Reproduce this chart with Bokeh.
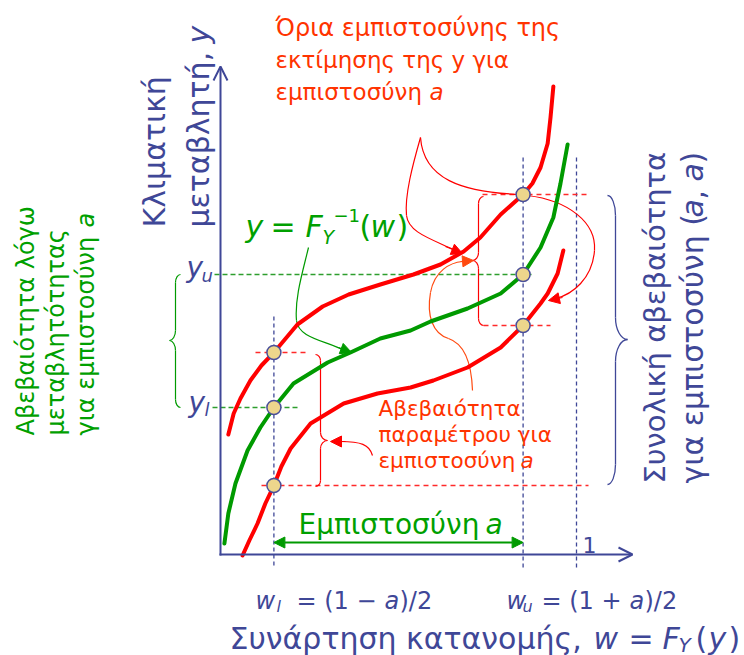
from math import pi
from bokeh.plotting import figure
from bokeh.models import Range1d, Arrow, NormalHead, OpenHead
from bokeh.core.properties import value
from bokeh.embed import file_html
from bokeh.resources import INLINE

# ---------------- data (w = distribution function value, y = climate variable) ----------------
a_conf = 0.7
w_l, w_u = 0.15, 0.85          # (1 - a)/2 , (1 + a)/2
w_one = 1.0
y_l, y_u = 1.47, 2.80

# central curve y = F_Y^-1(w)
mid_w = [0.011, 0.022, 0.042, 0.076, 0.112, 0.150, 0.205, 0.301, 0.365, 0.449, 0.534, 0.590,
         0.694, 0.787, 0.850, 0.899, 0.935, 0.955, 0.975]
mid_y = [0.11, 0.41, 0.71, 1.04, 1.27, 1.47, 1.71, 1.92, 2.02, 2.16, 2.24, 2.33,
         2.46, 2.61, 2.80, 3.07, 3.37, 3.71, 4.10]

# upper confidence limit curve
hi_w = [0.022, 0.037, 0.056, 0.084, 0.115, 0.150, 0.183, 0.216, 0.287, 0.360, 0.449, 0.542,
        0.618, 0.683, 0.730, 0.787, 0.850, 0.876, 0.899, 0.919, 0.927, 0.935]
hi_y = [1.20, 1.41, 1.56, 1.74, 1.89, 2.02, 2.16, 2.30, 2.48, 2.60, 2.70, 2.80,
        2.90, 3.03, 3.17, 3.40, 3.60, 3.71, 3.87, 4.11, 4.37, 4.68]

# lower confidence limit curve
lo_w = [0.062, 0.081, 0.104, 0.126, 0.150, 0.171, 0.197, 0.253, 0.346, 0.441, 0.534, 0.598,
        0.694, 0.787, 0.850, 0.899, 0.919, 0.947, 0.963]
lo_y = [-0.01, 0.14, 0.31, 0.51, 0.69, 0.88, 1.06, 1.31, 1.51, 1.61, 1.67, 1.74,
        1.87, 2.07, 2.29, 2.51, 2.61, 2.81, 3.04]

# marked points on the curves at w_l and w_u
dot_w = [w_l, w_l, w_l, w_u, w_u, w_u]
dot_y = [2.02, 1.47, 0.69, 3.60, 2.80, 2.29]

# ---------------- layout helpers ----------------
FONT = "DejaVu Sans"
BLUE = "#3F4797"
RED = "#FF0000"
RED_T = "#FF3300"
ORANGE = "#FF4A10"
GREEN = "#009A00"
GREEN_T = "#00A000"
DOT_FILL = "#EDD68C"
DOT_LINE = "#4A4F9A"
TXT_SHIFT = 9   # renderer places the alphabetic baseline this many px lower


def X(px):
    return (px - 220) / 356.0


def Y(py):
    return (554 - py) / 100.0


p = figure(width=744, height=655, x_range=Range1d(X(0), X(744)), y_range=Range1d(Y(655), Y(0)),
           output_backend="svg", toolbar_location=None, x_axis_location=None, y_axis_location=None,
           min_border=0)
p.outline_line_color = None
p.background_fill_color = "white"
p.border_fill_color = "white"
p.xgrid.visible = False
p.ygrid.visible = False


def T(px, py, s, size, color, italic=False, angle=0.0):
    if angle == 0.0:
        py = py - TXT_SHIFT
    else:
        px = px - TXT_SHIFT
    p.text(x=[X(px)], y=[Y(py)], text=[s], text_font=value(FONT), text_font_size=f"{size}px",
           text_color=color, text_font_style="italic" if italic else "normal",
           text_align="left", text_baseline="alphabetic", angle=angle)


def bez(curves, color, lw):
    p.bezier(x0=[X(c[0][0]) for c in curves], y0=[Y(c[0][1]) for c in curves],
             x1=[X(c[3][0]) for c in curves], y1=[Y(c[3][1]) for c in curves],
             cx0=[X(c[1][0]) for c in curves], cy0=[Y(c[1][1]) for c in curves],
             cx1=[X(c[2][0]) for c in curves], cy1=[Y(c[2][1]) for c in curves],
             line_color=color, line_width=lw)


def head(p0, p1, color, size=11):
    p.add_layout(Arrow(end=NormalHead(size=size, fill_color=color, line_color=color, line_width=1),
                       x_start=X(p0[0]), y_start=Y(p0[1]), x_end=X(p1[0]), y_end=Y(p1[1]),
                       line_color=color, line_width=1.2))


def brace(xv, ytop, ybot, ymid, d, rx, ry, tx, ty, color, lw):
    e = xv - d * rx
    c = [((e, ytop), (xv - d * rx * 0.45, ytop), (xv, ytop + ry * 0.45), (xv, ytop + ry)),
         ((xv, ymid - ty), (xv, ymid - ty * 0.45), (xv + d * tx * 0.45, ymid), (xv + d * tx, ymid)),
         ((xv + d * tx, ymid), (xv + d * tx * 0.45, ymid), (xv, ymid + ty * 0.45), (xv, ymid + ty)),
         ((xv, ybot - ry), (xv, ybot - ry * 0.45), (xv - d * rx * 0.45, ybot), (e, ybot))]
    bez(c, color, lw)
    p.segment(x0=[X(xv), X(xv)], y0=[Y(ytop + ry), Y(ymid + ty)],
              x1=[X(xv), X(xv)], y1=[Y(ymid - ty), Y(ybot - ry)], line_color=color, line_width=lw)


# ---------------- dashed guide lines ----------------
p.segment(x0=[w_l, w_u, w_one], y0=[Y(316), Y(157), Y(157)], x1=[w_l, w_u, w_one],
          y1=[Y(568), Y(568), Y(568)], line_color=BLUE, line_width=1.3, line_dash="4 3")
p.segment(x0=[X(214), X(212)], y0=[y_u, y_l], x1=[X(532), X(298)], y1=[y_u, y_l],
          line_color="#2E9E2E", line_width=1.3, line_dash="5 3")
p.segment(x0=[X(255), X(261), X(482), X(483)], y0=[dot_y[0], dot_y[2], dot_y[3], dot_y[5]],
          x1=[X(305), X(588), X(588), X(550)], y1=[dot_y[0], dot_y[2], dot_y[3], dot_y[5]],
          line_color="#FF2A2A", line_width=1.3, line_dash="5 4")

# ---------------- braces ----------------
brace(175, 274, 407, 340, -1, 5, 8, 6, 10, GREEN, 1.2)
brace(320, 354, 486, 440, 1, 5, 6, 7, 8, RED, 1.2)
brace(478, 196, 325, 260, -1, 5, 7, 6, 8, RED, 1.2)
brace(615, 195, 484, 339, 1, 8, 20, 12, 22, BLUE, 1.3)

# ---------------- thin connectors ----------------
bez([((308, 247), (302, 272), (294, 298), (296, 320)),
     ((296, 320), (298, 338), (325, 340), (344, 350))], GREEN, 1.2)
head((338, 347), (351, 352), GREEN)

bez([((420, 137), (423, 178), (460, 192), (521, 194)),
     ((420, 137), (412, 165), (404, 195), (406, 215)),
     ((406, 215), (408, 232), (430, 238), (455, 250))], RED, 1.2)
head((445, 246), (462, 253), RED)

bez([((527, 195), (568, 200), (596, 222), (594, 250)),
     ((594, 250), (592, 278), (572, 294), (555, 298))], RED, 1.2)
head((562, 297), (548, 300), RED)

bez([((472, 390), (471, 362), (463, 343), (448, 338)),
     ((448, 338), (432, 333), (426, 315), (430, 292)),
     ((430, 292), (434, 270), (450, 262), (462, 261))], ORANGE, 1.2)
head((460, 261), (473, 260), ORANGE)

bez([((372, 455), (369, 444), (360, 441), (340, 441))], RED, 1.2)
head((345, 441), (330, 441), RED)

# ---------------- axes ----------------
p.add_layout(Arrow(end=OpenHead(size=14, line_color=BLUE, line_width=2), x_start=X(220), y_start=Y(555),
                   x_end=X(220), y_end=Y(66), line_color=BLUE, line_width=2))
p.add_layout(Arrow(end=OpenHead(size=14, line_color=BLUE, line_width=2), x_start=X(219), y_start=Y(554),
                   x_end=X(632), y_end=Y(554), line_color=BLUE, line_width=2))

# ---------------- curves ----------------
p.line(hi_w, hi_y, line_color=RED, line_width=4, line_join="round", line_cap="round")
p.line(lo_w, lo_y, line_color=RED, line_width=4, line_join="round", line_cap="round")
p.line(mid_w, mid_y, line_color=GREEN, line_width=4, line_join="round", line_cap="round")

p.scatter(dot_w, dot_y, marker="circle", size=14, fill_color=DOT_FILL, line_color=DOT_LINE, line_width=1.5)

# confidence span arrow
p.add_layout(Arrow(start=NormalHead(size=11, fill_color=GREEN, line_color=GREEN),
                   end=NormalHead(size=11, fill_color=GREEN, line_color=GREEN),
                   x_start=w_l, y_start=Y(542), x_end=w_u, y_end=Y(542), line_color=GREEN, line_width=2))

# ---------------- texts ----------------
# top red label
T(275, 36, "Όρια εμπιστοσύνης της", 24, RED_T)
T(275, 68, "εκτίμησης της y για", 23, RED_T)
T(275, 100, "εμπιστοσύνη", 23, RED_T)
T(429, 100, "a", 23, RED_T, italic=True)

# vertical axis title
T(163, 227, "Κλιματική", 30, BLUE, angle=pi / 2)
T(207, 227, "μεταβλητή, ", 30, BLUE, angle=pi / 2)
T(207, 43, "y", 30, BLUE, italic=True, angle=pi / 2)

# left green rotated text
T(34, 435, "Αβεβαιότητα λόγω", 24, GREEN_T, angle=pi / 2)
T(64, 435, "μεταβλητότητας", 24, GREEN_T, angle=pi / 2)
T(94, 435, "για εμπιστοσύνη ", 24, GREEN_T, angle=pi / 2)
T(94, 227, "a", 24, GREEN_T, italic=True, angle=pi / 2)

# right blue rotated text
T(663, 483, "Συνολική αβεβαιότητα", 29, BLUE, angle=pi / 2)
T(701, 483, "για εμπιστοσύνη (", 30, BLUE, angle=pi / 2)
T(701, 217, "a", 30, BLUE, italic=True, angle=pi / 2)
T(701, 199, ",", 30, BLUE, angle=pi / 2)
T(701, 181, "a", 30, BLUE, italic=True, angle=pi / 2)
T(701, 163, ")", 30, BLUE, angle=pi / 2)

# y = F_Y^-1(w)
T(245, 235, "y", 30, GREEN_T, italic=True)
T(270, 235, "=", 30, GREEN_T)
T(305, 235, "F", 30, GREEN_T, italic=True)
T(322, 245, "Y", 19, GREEN_T, italic=True)
T(333, 224, "−1", 18, GREEN_T)
T(359, 235, "(", 30, GREEN_T)
T(370, 235, "w", 30, GREEN_T, italic=True)
T(396, 235, ")", 30, GREEN_T)

# y_u, y_l
T(186, 276, "y", 28, BLUE, italic=True)
T(201, 284, "u", 18, BLUE, italic=True)
T(188, 411, "y", 28, BLUE, italic=True)
T(204, 418, "l", 18, BLUE, italic=True)

# parameter uncertainty label
T(378, 417, "Αβεβαιότητα", 21.5, RED_T)
T(378, 443, "παραμέτρου για", 21.5, RED_T)
T(378, 469, "εμπιστοσύνη", 21.5, RED_T)
T(520, 469, "a", 21.5, RED_T, italic=True)

# confidence label
T(298, 533, "Εμπιστοσύνη", 28, GREEN_T)
T(485, 533, "a", 28, GREEN_T, italic=True)

# "1" on the w axis
T(582, 553, "1", 22, BLUE)

# w_l and w_u
T(255, 609, "w", 24, BLUE, italic=True)
T(276, 615, "l", 16, BLUE, italic=True)
T(296, 609, "= (1 −", 24, BLUE)
T(384, 609, "a", 24, BLUE, italic=True)
T(399, 609, ")/2", 24, BLUE)
T(506, 609, "w", 24, BLUE, italic=True)
T(522, 615, "u", 16, BLUE, italic=True)
T(541, 609, "= (1 +", 24, BLUE)
T(629, 609, "a", 24, BLUE, italic=True)
T(644, 609, ")/2", 24, BLUE)

# horizontal axis title
T(229, 647, "Συνάρτηση κατανομής,", 30, BLUE)
T(593, 647, "w", 30, BLUE, italic=True)
T(628, 647, "=", 30, BLUE)
T(662, 647, "F", 30, BLUE, italic=True)
T(678, 653, "Y", 20, BLUE, italic=True)
T(695, 647, "(", 30, BLUE)
T(708, 647, "y", 30, BLUE, italic=True)
T(728, 647, ")", 30, BLUE)

open("out.html", "w").write(file_html(p, INLINE))
